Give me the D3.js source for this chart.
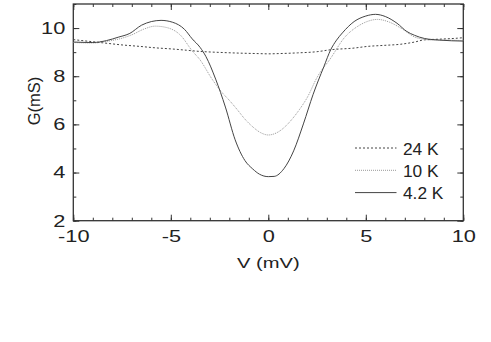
<!DOCTYPE html>
<html>
<head>
<meta charset="utf-8">
<script src="https://cdn.jsdelivr.net/npm/d3@7"></script>
<style>
  body { margin: 0; background: #fff; }
  text { font-family: "Liberation Sans", Arial, sans-serif; fill: #222; }
</style>
</head>
<body>
<svg id="chart" width="491" height="342"></svg>
<script>
// bias voltage (mV) and conductance (mS)
var v24 = [-10, -9.2, -8.4, -7.5, -6.6, -5.8, -4.9, -4.2, -3.5, -2.5, -1.5, -0.5, 0, 0.5, 1.5, 2.5, 3.2, 4.4, 5.1, 5.9, 6.8, 7.5, 8, 8.8, 9.7, 10];
var g24 = [9.52, 9.45, 9.38, 9.3, 9.24, 9.18, 9.13, 9.08, 9.03, 8.99, 8.96, 8.94, 8.93, 8.94, 8.97, 9.02, 9.1, 9.17, 9.24, 9.28, 9.33, 9.42, 9.51, 9.54, 9.58, 9.6];

var v10 = [-10, -9, -8.2, -7.5, -7, -6.4, -5.8, -5.2, -4.5, -3.9, -3.5, -2.9, -2.4, -2, -1.6, -1.2, -0.8, -0.4, 0, 0.4, 0.8, 1.2, 1.6, 2, 2.5, 3.2, 3.9, 4.6, 5, 5.6, 6.2, 6.8, 7.6, 8.5, 9.2, 10];
var g10 = [9.4, 9.38, 9.46, 9.58, 9.72, 9.95, 10.08, 10.02, 9.7, 9.05, 8.68, 7.9, 7.35, 7.0, 6.62, 6.22, 5.9, 5.66, 5.56, 5.64, 5.86, 6.2, 6.62, 7.12, 7.95, 8.75, 9.6, 10.08, 10.25, 10.36, 10.25, 10.0, 9.6, 9.5, 9.5, 9.48];

var v4 = [-10, -9, -8.3, -7.7, -7.1, -6.5, -6, -5.5, -4.9, -4.3, -3.9, -3.5, -3.2, -2.7, -2.2, -1.7, -1.2, -0.8, -0.45, 0, 0.3, 0.8, 1.3, 1.8, 2.3, 2.85, 3.2, 3.5, 3.8, 4.4, 5, 5.5, 6, 6.6, 7.1, 7.5, 8, 8.8, 10];
var g4 = [9.42, 9.4, 9.48, 9.62, 9.78, 10.12, 10.27, 10.32, 10.24, 9.95, 9.55, 9.2, 8.82, 7.88, 6.72, 5.36, 4.5, 4.15, 3.93, 3.83, 3.84, 4.16, 4.9, 6.02, 7.25, 8.4, 9.1, 9.5, 9.8, 10.27, 10.5, 10.57, 10.48, 10.2, 9.86, 9.7, 9.57, 9.5, 9.46];

var series = [
  { label: "24 K", v: v24, g: g24, color: "#444", width: 1, dash: "2,2" },
  { label: "10 K", v: v10, g: g10, color: "#999", width: 1, dash: "1,1" },
  { label: "4.2 K", v: v4, g: g4, color: "#444", width: 1, dash: null }
];

var xTicks = [-10, -5, 0, 5, 10];
var yTicks = [2, 4, 6, 8, 10];

var mLeft = 73.3, mRight = 463.3, mTop = 4, mBottom = 220.7;

var svg = d3.select("#chart");

var x = d3.scaleLinear().domain([-10, 10]).range([mLeft, mRight]);
var y = d3.scaleLinear().domain([2, 11]).range([mBottom, mTop]);

var fmt = function(d) { return String(d); };

// the original lettering is a bit wider than Arial, stretch it sideways
function stretch(sel, k) {
  sel.each(function() {
    var w = this.getComputedTextLength();
    d3.select(this).attr("textLength", w * k).attr("lengthAdjust", "spacingAndGlyphs");
  });
}

// inward ticks on all four sides
var minorX = d3.range(-10, 10.01, 1);
var minorY = d3.range(2, 11.01, 1);

function noDomain(g) { g.select(".domain").remove(); }

svg.append("g")
  .attr("transform", "translate(0," + mBottom + ")")
  .call(d3.axisBottom(x).tickValues(minorX).tickSize(-3).tickFormat(""))
  .call(noDomain);
svg.append("g")
  .attr("class", "xlab")
  .attr("transform", "translate(0," + mBottom + ")")
  .call(d3.axisBottom(x).tickValues(xTicks).tickSize(-6).tickPadding(9.6).tickFormat(fmt))
  .call(noDomain);
svg.append("g")
  .attr("transform", "translate(0," + mTop + ")")
  .call(d3.axisTop(x).tickValues(minorX).tickSize(-3).tickFormat(""))
  .call(noDomain);
svg.append("g")
  .attr("transform", "translate(0," + mTop + ")")
  .call(d3.axisTop(x).tickValues(xTicks).tickSize(-6).tickFormat(""))
  .call(noDomain);

svg.append("g")
  .attr("transform", "translate(" + mLeft + ",0)")
  .call(d3.axisLeft(y).tickValues(minorY).tickSize(-3).tickFormat(""))
  .call(noDomain);
svg.append("g")
  .attr("class", "ylab")
  .attr("transform", "translate(" + mLeft + ",0)")
  .call(d3.axisLeft(y).tickValues(yTicks).tickSize(-6).tickPadding(8).tickFormat(fmt))
  .call(noDomain);
svg.append("g")
  .attr("transform", "translate(" + mRight + ",0)")
  .call(d3.axisRight(y).tickValues(minorY).tickSize(-3).tickFormat(""))
  .call(noDomain);
svg.append("g")
  .attr("transform", "translate(" + mRight + ",0)")
  .call(d3.axisRight(y).tickValues(yTicks).tickSize(-6).tickFormat(""))
  .call(noDomain);

svg.selectAll(".tick line").attr("stroke", "#333").attr("stroke-width", 1);
svg.selectAll(".tick text")
  .attr("font-family", null)
  .style("font-size", "17px")
  .attr("fill", "#222")
  .call(stretch, 1.28);

svg.append("rect")
  .attr("x", mLeft).attr("y", mTop)
  .attr("width", mRight - mLeft).attr("height", mBottom - mTop)
  .attr("fill", "none").attr("stroke", "#333").attr("stroke-width", 1.3);

var line = d3.line().curve(d3.curveMonotoneX);

series.forEach(function(s) {
  var pts = s.v.map(function(d, i) { return [x(d), y(s.g[i])]; });
  svg.append("path")
    .attr("d", line(pts))
    .attr("fill", "none")
    .attr("stroke", s.color)
    .attr("stroke-width", s.width)
    .attr("stroke-dasharray", s.dash);
});

// legend
var legend = svg.append("g");
series.forEach(function(s, i) {
  var ly = 148 + i * 22.3;
  legend.append("line")
    .attr("x1", 355).attr("x2", 396.5)
    .attr("y1", ly).attr("y2", ly)
    .attr("stroke", s.color)
    .attr("stroke-width", s.width)
    .attr("stroke-dasharray", s.dash);
  legend.append("text")
    .attr("x", 403).attr("y", ly + 6.5)
    .style("font-size", "16px")
    .text(s.label)
    .call(stretch, 1.08);
});

// axis titles
svg.append("text")
  .attr("x", (mLeft + mRight) / 2)
  .attr("y", 267.5)
  .attr("text-anchor", "middle")
  .style("font-size", "15.5px")
  .text("V (mV)")
  .call(stretch, 1.3);

svg.append("text")
  .attr("transform", "translate(40,101) rotate(-90)")
  .attr("text-anchor", "middle")
  .style("font-size", "16.5px")
  .text("G(mS)");
</script>
</body>
</html>
